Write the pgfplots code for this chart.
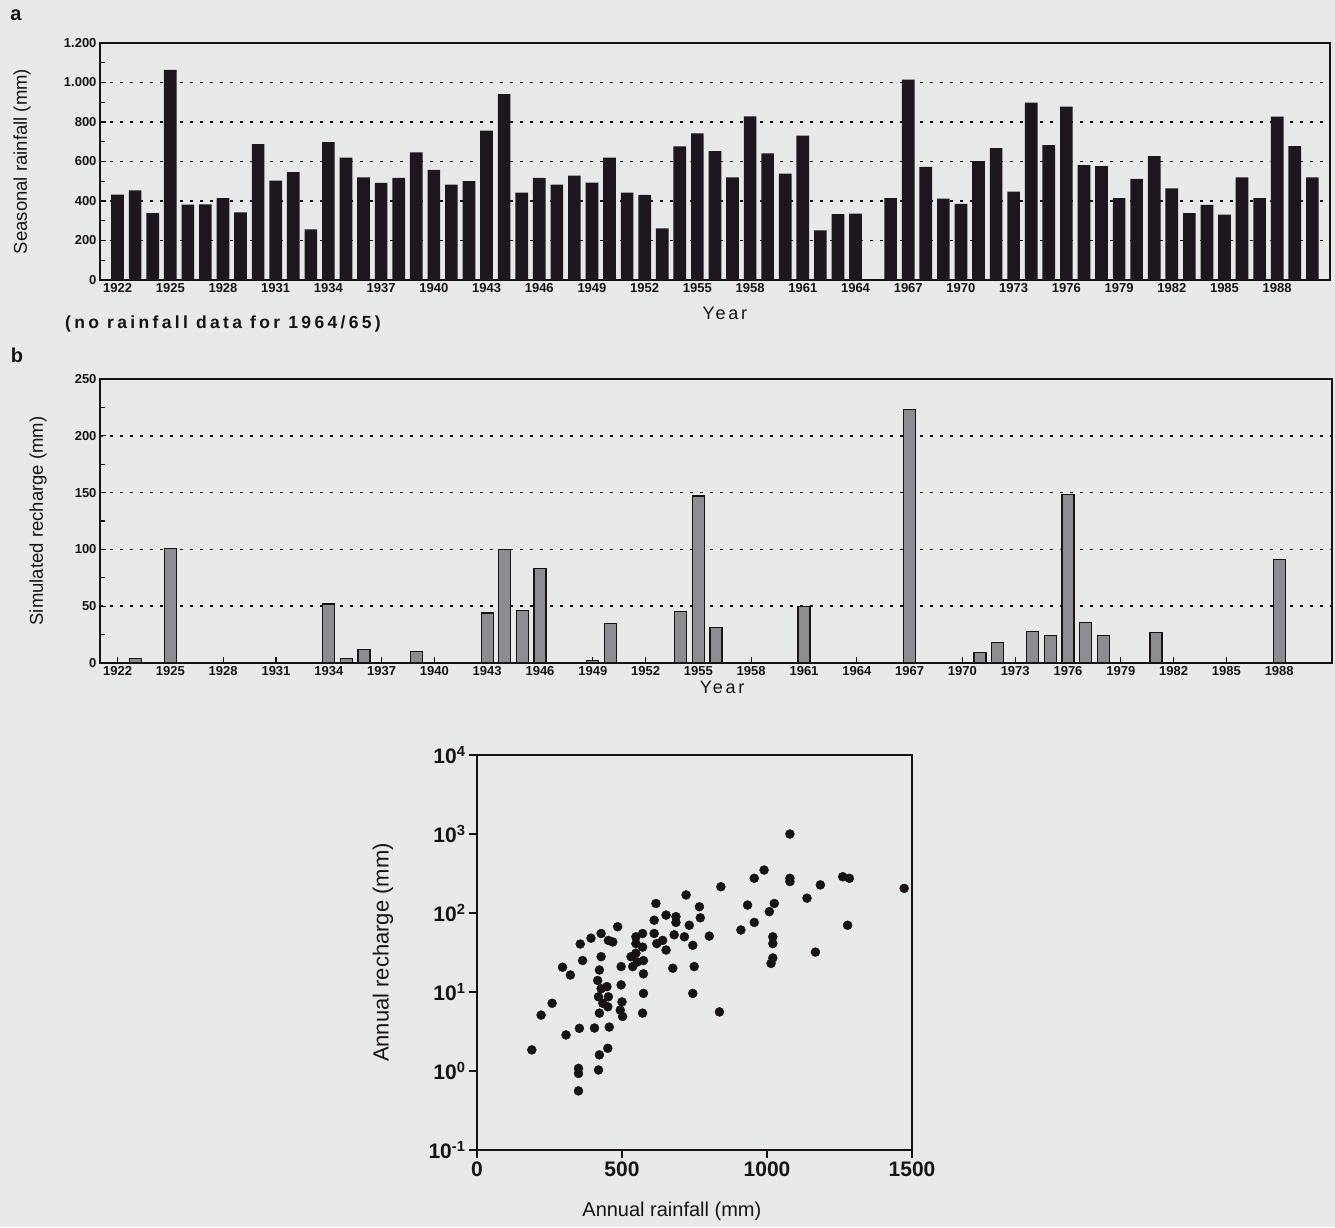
\documentclass[border=0pt]{standalone}
\usepackage{pgfplots}
\pgfplotsset{compat=1.18}
\usepackage{fontspec}
\setmainfont{Liberation Sans}
\newfontfamily\widefont[LetterSpace=15]{Liberation Sans}
\newfontfamily\widerfont[LetterSpace=19]{Liberation Sans}
\definecolor{paper}{RGB}{232,233,233}
\definecolor{ink}{RGB}{22,18,22}
\definecolor{barA}{RGB}{30,22,30}
\definecolor{barB}{RGB}{140,140,145}
\pgfplotsset{
  /pgf/number format/assume math mode=true,
  /pgf/number format/1000 sep={},
  every axis/.append style={
    scale only axis, anchor=south west,
    axis line style={line width=1.5pt, ink},
    tick style={line width=1.2pt, ink},
  },
  barpanel/.style={
    xmin=1921, xmax=1991,
    xtick={1922,1925,...,1988},
    tick pos=left, tick align=inside,
    major tick length=6pt, minor tick length=5pt,
    minor y tick num=1,
    ymajorgrids,
    major grid style={line width=1.5pt, ink, dash pattern=on 2.5pt off 7.5pt},
    ticklabel style={font=\fontsize{13}{13}\selectfont\bfseries, text=ink},
    xlabel={\widefont Year},
    xlabel style={font=\fontsize{18}{18}\selectfont, text=ink, anchor=center},
    ylabel style={font=\fontsize{18.5}{18.5}\selectfont, text=ink, anchor=center},
  },
}
\begin{document}
\begin{tikzpicture}[x=1pt,y=1pt]
\fill[paper] (0,0) rectangle (1335,1227);
\useasboundingbox (0,0) rectangle (1335,1227);

% ---------------- panel a ----------------
\begin{axis}[barpanel,
  at={(100pt,947pt)}, width=1230pt, height=237pt,
  ymin=0, ymax=1200,
  ytick={0,200,...,1200},
  yticklabels={0,200,400,600,800,1.000,1.200},
  ylabel={Seasonal rainfall (mm)},
  ylabel style={at={(axis description cs:-0.0634,0.5)}},
  xlabel style={at={(axis description cs:0.508,-0.139)}},
]
\addplot[ybar, bar width=0.72, fill=barA, draw=none] table {
1922 432
1923 454
1924 339
1925 1064
1926 381
1927 383
1928 415
1929 342
1930 688
1931 503
1932 546
1933 256
1934 698
1935 620
1936 520
1937 492
1938 517
1939 646
1940 558
1941 483
1942 500
1943 756
1944 941
1945 442
1946 517
1947 483
1948 529
1949 493
1950 620
1951 442
1952 431
1953 261
1954 676
1955 742
1956 653
1957 520
1958 829
1959 641
1960 539
1961 731
1962 251
1963 334
1964 336
1966 414
1967 1014
1968 573
1969 412
1970 386
1971 602
1972 668
1973 447
1974 898
1975 683
1976 878
1977 581
1978 576
1979 415
1980 512
1981 627
1982 464
1983 339
1984 380
1985 331
1986 519
1987 415
1988 827
1989 678
1990 520
};
\end{axis}

% ---------------- panel b ----------------
\begin{axis}[barpanel,
  at={(100pt,564pt)}, width=1232pt, height=284pt,
  ymin=0, ymax=250,
  ytick={0,50,...,250},
  ylabel={Simulated recharge (mm)},
  ylabel style={at={(axis description cs:-0.0503,0.5)}},
  xlabel style={at={(axis description cs:0.505,-0.085)}},
]
\addplot[ybar, bar width=0.68, fill=barB, draw=ink, line width=1.2pt] table {
1923 4
1925 101
1934 52
1935 4
1936 12
1939 10
1943 44
1944 100
1945 46
1946 83
1949 2
1950 35
1954 45
1955 147
1956 31
1961 50
1967 223
1971 9
1972 18
1974 28
1975 24
1976 148
1977 36
1978 24
1981 27
1988 91
};
\end{axis}

% ---------------- panel c (scatter) ----------------
\begin{axis}[
  at={(477pt,77pt)}, width=435pt, height=395pt,
  xmin=0, xmax=1500, ymode=log, ymin=0.1, ymax=10000,
  xtick={0,500,1000,1500},
  ytick={0.1,1,10,100,1000,10000},
  yticklabels={10\textsuperscript{-1},10\textsuperscript{0},10\textsuperscript{1},10\textsuperscript{2},10\textsuperscript{3},10\textsuperscript{4}},
  yminorticks=false,
  tick pos=left, tick align=outside, major tick length=8pt,
  ticklabel style={font=\fontsize{21}{21}\selectfont\bfseries, text=ink},
  xlabel={Annual rainfall (mm)},
  ylabel={Annual recharge (mm)},
  xlabel style={font=\fontsize{20}{20}\selectfont, text=ink, anchor=center, at={(axis description cs:0.448,-0.154)}},
  ylabel style={font=\fontsize{22}{22}\selectfont, text=ink, anchor=center, at={(axis description cs:-0.216,0.5)}},
]
\addplot[only marks, mark=*, mark size=4.5pt, mark options={fill=ink, draw=ink}] table {
189 1.85
221 5.1
259 7.2
295 20.6
322 16.4
307 2.86
353 3.47
350 1.08
350 0.93
350 0.56
356 40.5
364 25
393 48
405 3.5
419 1.03
422 1.6
451 1.94
428 55
428 28
422 19
416 14
428 11
419 8.7
434 7.2
422 5.4
448 11.7
453 8.7
451 6.5
456 3.6
453 45
485 67
468 43
497 12.3
500 7.5
494 5.9
502 4.9
497 21
537 21
548 41
548 31
548 50
531 28
553 24
571 55
571 37
574 25
574 17
574 9.6
571 5.4
611 81
617 132
611 55
620 41
652 94
686 90
686 76
640 45
652 34
680 53
715 50
732 70
721 169
744 39
767 120
770 87
801 51
675 20
749 21
744 9.6
836 5.6
841 215
910 61
933 126
956 76
956 275
990 350
1008 104
1025 132
1020 50
1020 41
1020 27
1014 23
1079 1000
1079 275
1079 250
1138 154
1184 227
1167 32
1261 288
1284 275
1278 70
1473 205
};
\end{axis}

% panel letters and note
\node[font=\fontsize{20}{20}\selectfont\bfseries, text=ink] at (16,1212) {a};
\node[font=\fontsize{20}{20}\selectfont\bfseries, text=ink] at (17,872) {b};
\node[anchor=west, font=\fontsize{17.5}{17.5}\selectfont\bfseries\widerfont, text=ink, inner sep=0pt] at (65,903) {(no rainfall data for 1964/65)};
\end{tikzpicture}
\end{document}
